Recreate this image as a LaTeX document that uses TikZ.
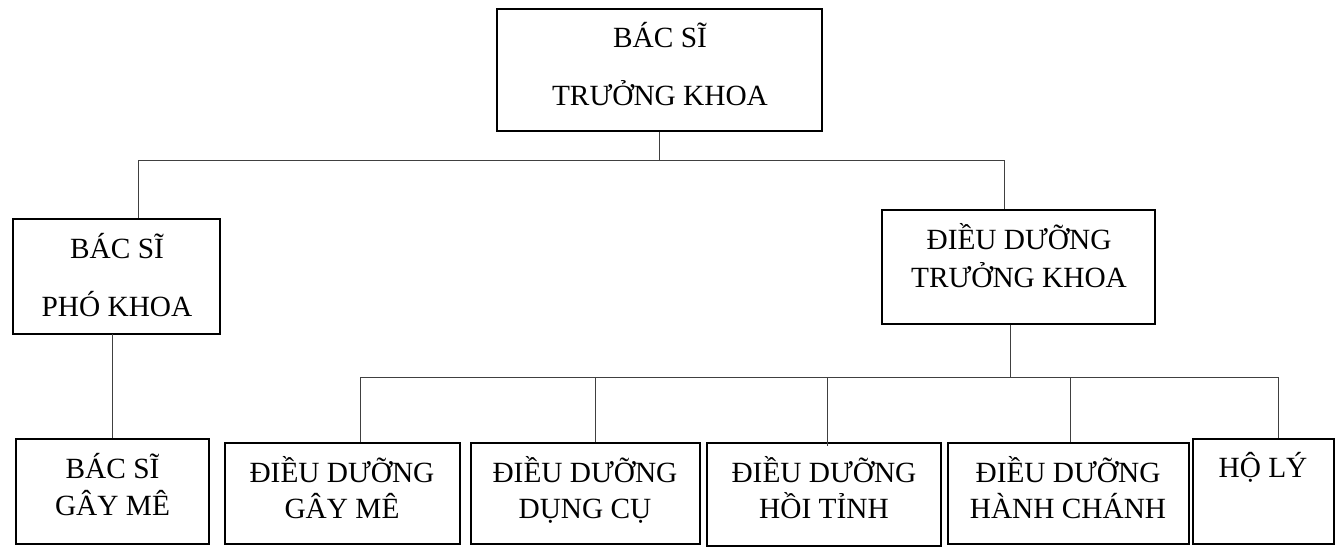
\documentclass[tikz,border=0pt]{standalone}
\usepackage{fontspec}
\setmainfont{Liberation Serif}
\usetikzlibrary{fit}
\begin{document}
\begin{tikzpicture}[x=0.75pt,y=-0.75pt,
  box/.style={draw=black,line width=1.5pt,inner sep=0pt},
  txt/.style={anchor=base,inner sep=0pt,font=\fontsize{22}{26}\selectfont},
  link/.style={draw=black!75,line width=0.75pt}]
\useasboundingbox (0,0) rectangle (1342,551);
% boxes
\node[box,fit={(497,9) (822,131)}] (top) {};
\node[box,fit={(13,219) (220,334)}] (pk) {};
\node[box,fit={(882,210) (1155,324)}] (dt) {};
\node[box,fit={(16,439) (209,544)}] (bsgm) {};
\node[box,fit={(225,443) (460,544)}] (ddgm) {};
\node[box,fit={(471,443) (700,544)}] (ddcc) {};
\node[box,fit={(707,443) (941,546)}] (ddht) {};
\node[box,fit={(948,443) (1189,544)}] (ddhc) {};
\node[box,fit={(1193,439) (1334,544)}] (holy) {};
% texts
\node[txt] (topA) at (660,47) {BÁC SĨ};
\node[txt] (topB) at (660,105) {TRƯỞNG KHOA};
\node[txt] (pkA) at (117,258) {BÁC SĨ};
\node[txt] (pkB) at (117,316) {PHÓ KHOA};
\node[txt] (dtA) at (1019,249) {ĐIỀU DƯỠNG};
\node[txt] (dtB) at (1019,287) {TRƯỞNG KHOA};
\node[txt] (bsgmA) at (112.5,478) {BÁC SĨ};
\node[txt] (bsgmB) at (112.5,515) {GÂY MÊ};
\node[txt] (ddgmA) at (342,482) {ĐIỀU DƯỠNG};
\node[txt] (ddgmB) at (342,518) {GÂY MÊ};
\node[txt] (ddccA) at (585,482) {ĐIỀU DƯỠNG};
\node[txt] (ddccB) at (585,518) {DỤNG CỤ};
\node[txt] (ddhtA) at (824,482) {ĐIỀU DƯỠNG};
\node[txt] (ddhtB) at (824,518) {HỒI TỈNH};
\node[txt] (ddhcA) at (1068,482) {ĐIỀU DƯỠNG};
\node[txt] (ddhcB) at (1068,518) {HÀNH CHÁNH};
\node[txt] (holyA) at (1263,477) {HỘ LÝ};
% connectors, level 1
\coordinate (busL) at (138,160);
\coordinate (busR) at (1004,160);
\coordinate (busT) at (659,160);
\draw[link] (busL) -- (busR);
\draw[link] (top.south -| busT) -- (busT);
\draw[link] (busL) -- (busL |- pk.north);
\draw[link] (busR) -- (busR |- dt.north);
% PK to BS gay me
\coordinate (pkD) at (112,334);
\draw[link] (pkD) -- (pkD |- bsgm.north);
% level 2
\coordinate (bus2T) at (1010,377);
\coordinate (b1) at (360,377);
\coordinate (b2) at (595,377);
\coordinate (b3) at (827,377);
\coordinate (b4) at (1070,377);
\coordinate (b5) at (1278,377);
\draw[link] (b1) -- (b5);
\draw[link] (dt.south -| bus2T) -- (bus2T);
\draw[link] (b1) -- (b1 |- ddgm.north);
\draw[link] (b2) -- (b2 |- ddcc.north);
\draw[link] (b3) -- ([yshift=-3pt]b3 |- ddht.north);
\draw[link] (b4) -- (b4 |- ddhc.north);
\draw[link] (b5) -- (b5 |- holy.north);
\end{tikzpicture}
\end{document}
